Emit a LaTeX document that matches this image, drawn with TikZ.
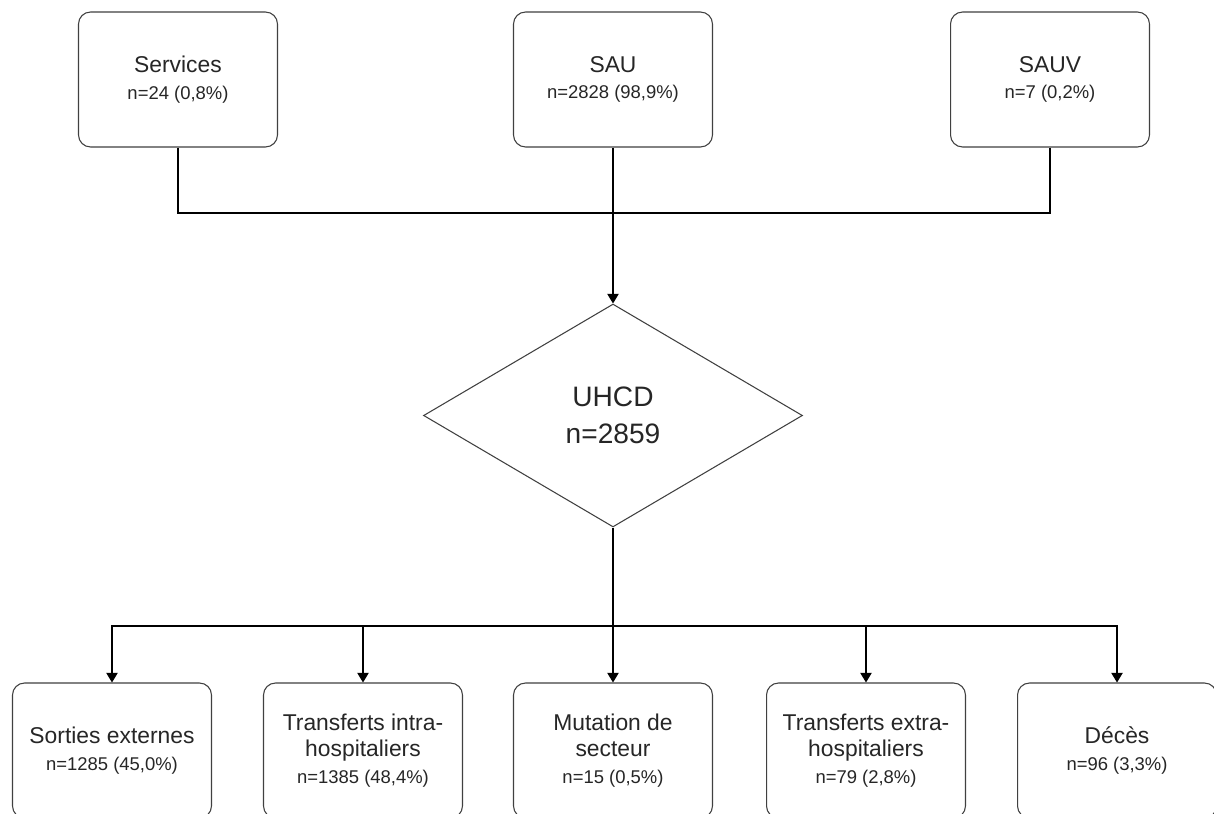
\documentclass[tikz,border=0pt]{standalone}
\usepackage{fontspec}
\setmainfont{Liberation Sans}
\usetikzlibrary{shapes.geometric,arrows.meta}
\newcommand{\effectif}[1]{{\fontsize{10.5}{15.5}\selectfont #1}}

\begin{document}
\begin{tikzpicture}[x=0.02cm,y=-0.02cm,
    boite/.style={draw=black!75,line width=0.6pt,rectangle,rounded corners=0.24cm,
      minimum width=3.98cm,minimum height=2.7cm,align=center,inner sep=2pt,
      font=\fontsize{13}{15.2}\selectfont,text=black!85},
    losange/.style={draw=black!75,line width=0.6pt,diamond,inner sep=0pt,
      minimum width=7.58cm,minimum height=4.46cm,align=center,
      font=\fontsize{16}{21}\selectfont,text=black!85},
    lien/.style={line width=0.6pt},
    fleche/.style={lien,-{Triangle[length=5.5pt,width=6.5pt]}}]
  \clip (0,0) rectangle (1214,814);
  \fill[white] (0,0) rectangle (1214,814);
  \node[boite] (serv) at (178,79.5) {Services\\\effectif{n=24 (0,8\%)}};
  \node[boite] (sau) at (613,79.5) {SAU\\\effectif{n=2828 (98,9\%)}};
  \node[boite] (sauv) at (1050,79.5) {SAUV\\\effectif{n=7 (0,2\%)}};
  \coordinate (merge) at (613,213);
  \node[losange] (uhcd) at (613,415.5) {UHCD\\n=2859};
  \coordinate (split) at (613,626);
  \node[boite] (sort) at (112,750.5) {Sorties externes\\\effectif{n=1285 (45,0\%)}};
  \node[boite] (intra) at (363,750.5) {Transferts intra-\\hospitaliers\\\effectif{n=1385 (48,4\%)}};
  \node[boite] (mut) at (613,750.5) {Mutation de\\secteur\\\effectif{n=15 (0,5\%)}};
  \node[boite] (extra) at (866,750.5) {Transferts extra-\\hospitaliers\\\effectif{n=79 (2,8\%)}};
  \node[boite] (dec) at (1117,750.5) {D\'ec\`es\\\effectif{n=96 (3,3\%)}};
  \draw[lien] (serv.south) |- (merge);
  \draw[lien] (sauv.south) |- (merge);
  \draw[fleche] (sau.south) -- (uhcd.north);
  \draw[lien] (uhcd.south) -- (split);
  \foreach \b in {sort,intra,mut,extra,dec}
    \draw[fleche] (split) -| (\b.north);
\end{tikzpicture}
\end{document}
